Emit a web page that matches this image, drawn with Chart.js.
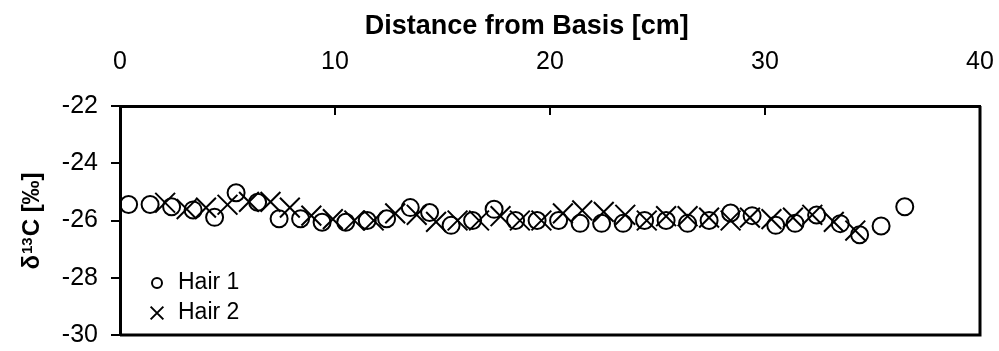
<!DOCTYPE html>
<html>
<head>
<meta charset="utf-8">
<title>Hair d13C profile</title>
<script src="https://cdn.jsdelivr.net/npm/chart.js@4.4.0/dist/chart.umd.min.js"></script>
<style>
    html, body { margin: 0; padding: 0; background: #fff; }
    #wrap { width: 999px; height: 351px; }
</style>
</head>
<body>
<div id="wrap"><canvas id="hairChart" width="999" height="351"></canvas></div>
<script>
// Hair 1 (circles)
const hair1X = [0.4, 1.4, 2.4, 3.4, 4.4, 5.4, 6.4, 7.4, 8.4, 9.4, 10.5, 11.5, 12.4, 13.5, 14.4, 15.4, 16.4, 17.4, 18.4,
    19.4, 20.4, 21.4, 22.4, 23.4, 24.4, 25.4, 26.4, 27.4, 28.4, 29.4, 30.5, 31.4, 32.4, 33.5, 34.4, 35.4, 36.5];
const hair1Y = [-25.44, -25.44, -25.52, -25.63, -25.89, -25.03, -25.36, -25.94, -25.94, -26.06, -26.06, -26.0, -25.94,
    -25.55, -25.72, -26.17, -26.0, -25.61, -26.0, -26.0, -26.0, -26.1, -26.1, -26.1, -26.0, -26.0, -26.1, -26.0,
    -25.74, -25.83, -26.17, -26.1, -25.81, -26.11, -26.5, -26.19, -25.52];

// Hair 2 (crosses)
const hair2X = [2.1, 3.1, 4.0, 5.0, 6.0, 7.0, 7.9, 8.9, 9.9, 10.9, 11.8, 12.8, 13.8, 14.7, 15.7, 16.7, 17.7, 18.6,
    19.6, 20.6, 21.5, 22.5, 23.5, 24.5, 25.4, 26.4, 27.4, 28.4, 29.3, 30.3, 31.3, 32.2, 33.2, 34.2];
const hair2Y = [-25.38, -25.6, -25.55, -25.45, -25.35, -25.35, -25.55, -25.83, -25.95, -26.0, -26.0, -25.75, -25.8,
    -26.05, -26.0, -26.0, -25.85, -26.0, -26.0, -25.75, -25.65, -25.7, -25.8, -26.0, -25.85, -25.85, -25.9, -26.0,
    -25.9, -25.95, -25.9, -25.8, -26.05, -26.35];

// Axis ticks
const xTicks = [0, 10, 20, 30, 40];
const yTicks = [-30, -28, -26, -24, -22];

const seriesNames = ['Hair 1', 'Hair 2'];
const fontName = '"Liberation Sans", Arial, sans-serif';

function toPoints(xs, ys) {
    return xs.map((x, i) => ({ x: x, y: ys[i] }));
}

// y title with a real superscript: delta, 13, C [permil]
function drawYTitle(ctx, a) {
    const big = 'bold 24px ' + fontName;
    const small = 'bold 15px ' + fontName;
    const parts = [
        { t: 'δ', f: big, dy: 8.5 },
        { t: '13', f: small, dy: 1.5 },
        { t: 'C [‰]', f: big, dy: 8.5 }
    ];
    let total = 0;
    parts.forEach(p => { ctx.font = p.f; p.w = ctx.measureText(p.t).width + 1; total += p.w; });
    ctx.save();
    ctx.translate(30, (a.top + a.bottom) / 2);
    ctx.rotate(-Math.PI / 2);
    ctx.fillStyle = '#000';
    ctx.textAlign = 'left';
    ctx.textBaseline = 'alphabetic';
    let x = -total / 2;
    parts.forEach(p => {
        ctx.font = p.f;
        ctx.fillText(p.t, x, p.dy);
        x += p.w;
    });
    ctx.restore();
}

// Right and bottom frame, inward ticks on the top axis, the titles and the legend
const framePlugin = {
    id: 'frame',
    afterDraw(chart) {
        const { ctx, chartArea: a } = chart;
        const xScale = chart.scales.x;
        ctx.save();
        ctx.strokeStyle = '#000';
        ctx.lineWidth = 3;
        ctx.beginPath();
        ctx.moveTo(a.right, a.top);
        ctx.lineTo(a.right, a.bottom);
        ctx.lineTo(a.left, a.bottom);
        ctx.stroke();

        ctx.lineWidth = 2;
        ctx.beginPath();
        xTicks.slice(1, -1).forEach(v => {
            const px = xScale.getPixelForValue(v);
            ctx.moveTo(px, a.top);
            ctx.lineTo(px, a.top + 9);
        });
        ctx.stroke();

        // axis title above the tick labels
        ctx.fillStyle = '#000';
        ctx.font = 'bold 27px ' + fontName;
        ctx.textAlign = 'center';
        ctx.textBaseline = 'alphabetic';
        ctx.fillText('Distance from Basis [cm]', a.left + (a.right - a.left) * 0.473, 34);

        drawYTitle(ctx, a);

        // legend
        ctx.font = '23px ' + fontName;
        ctx.textAlign = 'left';
        ctx.textBaseline = 'middle';
        const styles = [
            { pointStyle: 'circle', radius: 5, borderWidth: 2, rotation: 0 },
            { pointStyle: 'crossRot', radius: 9, borderWidth: 2, rotation: 0 }
        ];
        const rows = [a.bottom - 52, a.bottom - 22];
        styles.forEach((st, i) => {
            ctx.strokeStyle = '#000';
            ctx.fillStyle = 'rgba(0,0,0,0)';
            ctx.lineWidth = 2;
            Chart.helpers.drawPoint(ctx, st, a.left + 37, rows[i]);
            ctx.fillStyle = '#000';
            ctx.fillText(seriesNames[i], a.left + 58, rows[i]);
        });
        ctx.restore();
    }
};

function initializeChart() {
    const ctx = document.getElementById('hairChart').getContext('2d');
    new Chart(ctx, {
        type: 'scatter',
        data: {
            datasets: [{
                label: seriesNames[0],
                data: toPoints(hair1X, hair1Y),
                pointStyle: 'circle',
                pointRadius: 8.5,
                pointBorderWidth: 2,
                borderColor: '#000',
                backgroundColor: 'rgba(0,0,0,0)'
            }, {
                label: seriesNames[1],
                data: toPoints(hair2X, hair2Y),
                pointStyle: 'crossRot',
                pointRadius: 14,
                pointBorderWidth: 2,
                borderColor: '#000',
                backgroundColor: 'rgba(0,0,0,0)'
            }]
        },
        options: {
            responsive: false,
            animation: false,
            events: [],
            layout: { padding: { left: 0, top: 0, right: 19, bottom: 7 } },
            plugins: {
                legend: { display: false },
                tooltip: { enabled: false }
            },
            scales: {
                x: {
                    type: 'linear',
                    position: 'top',
                    min: 0,
                    max: 40,
                    afterBuildTicks: scale => { scale.ticks = xTicks.map(v => ({ value: v })); },
                    afterFit: scale => {
                        scale.height = 106;
                        scale.paddingLeft = 0;
                        scale.paddingRight = 0;
                    },
                    grid: { display: false, drawTicks: false },
                    border: { display: true, color: '#000', width: 3 },
                    ticks: {
                        color: '#000',
                        padding: 29,
                        maxRotation: 0,
                        font: { family: fontName, size: 25 }
                    }
                },
                y: {
                    min: -30,
                    max: -22,
                    afterBuildTicks: scale => { scale.ticks = yTicks.map(v => ({ value: v })); },
                    afterFit: scale => {
                        scale.width = 120;
                        scale.paddingTop = 0;
                        scale.paddingBottom = 0;
                    },
                    grid: {
                        display: true,
                        drawOnChartArea: false,
                        drawTicks: true,
                        tickLength: 9,
                        color: '#000',
                        lineWidth: 2
                    },
                    border: { display: true, color: '#000', width: 3 },
                    ticks: {
                        color: '#000',
                        padding: 13,
                        font: { family: fontName, size: 25 }
                    }
                }
            }
        },
        plugins: [framePlugin]
    });
}

document.addEventListener('DOMContentLoaded', () => {
    initializeChart();
});
</script>
</body>
</html>
